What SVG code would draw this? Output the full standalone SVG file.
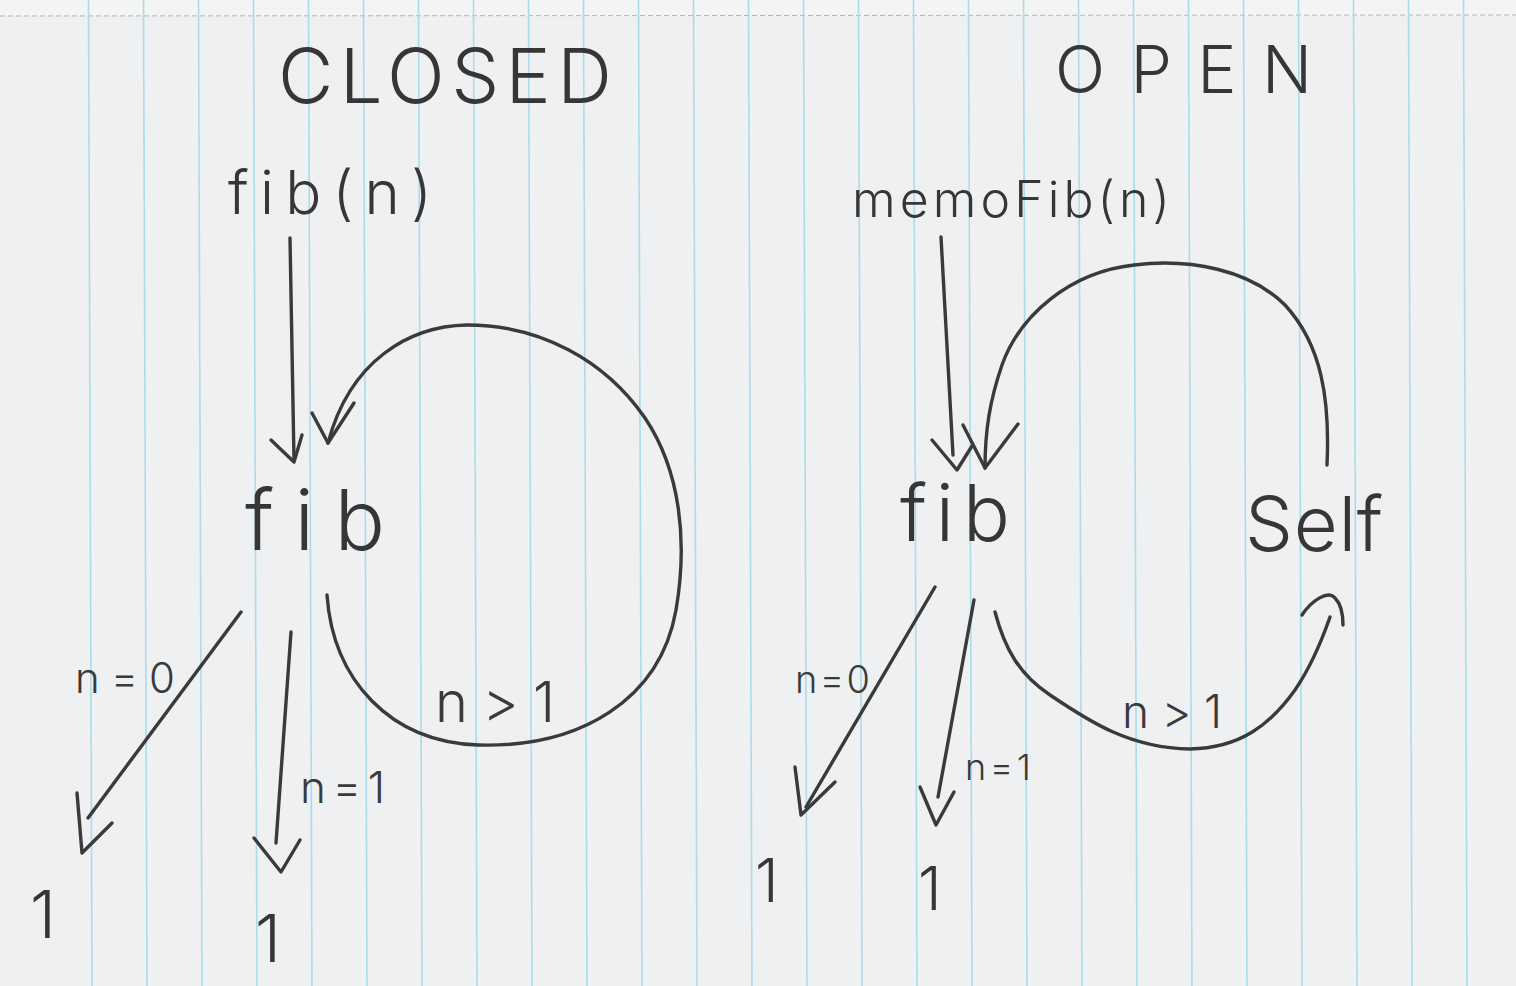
<svg xmlns="http://www.w3.org/2000/svg" width="1516" height="986" viewBox="0 0 1516 986">
<defs>
<style>
.paper{fill:#eef0f2}
.rule{stroke:#a9dbeb;stroke-width:1.6;fill:none}
.ink{stroke:#3a3a3a;stroke-width:3.4;fill:none;stroke-linecap:round;stroke-linejoin:round}
.hw{font-family:Inter,"DejaVu Sans","Liberation Sans",sans-serif;font-weight:300;fill:#363636}
.lbl{font-family:Inter,"DejaVu Sans","Liberation Sans",sans-serif;font-weight:300;fill:#3a3a3a}
</style>
</defs>
<rect class="paper" x="0" y="0" width="1516" height="986"/>
<rect x="0" y="0" width="1516" height="16" fill="#f3f4f4"/>
<line x1="0" y1="16" x2="1516" y2="15" stroke="#b4b4b4" stroke-width="1" stroke-dasharray="5 3"/>
<g id="rules">
<line class="rule" x1="88.5" y1="0" x2="92" y2="986"/>
<line class="rule" x1="143.5" y1="0" x2="147" y2="986"/>
<line class="rule" x1="198.5" y1="0" x2="202" y2="986"/>
<line class="rule" x1="253.5" y1="0" x2="257" y2="986"/>
<line class="rule" x1="308.5" y1="0" x2="312" y2="986"/>
<line class="rule" x1="363.5" y1="0" x2="367" y2="986"/>
<line class="rule" x1="418.5" y1="0" x2="422" y2="986"/>
<line class="rule" x1="473.5" y1="0" x2="477" y2="986"/>
<line class="rule" x1="528.5" y1="0" x2="532" y2="986"/>
<line class="rule" x1="583.5" y1="0" x2="587" y2="986"/>
<line class="rule" x1="638.5" y1="0" x2="642" y2="986"/>
<line class="rule" x1="693.5" y1="0" x2="697" y2="986"/>
<line class="rule" x1="748.5" y1="0" x2="752" y2="986"/>
<line class="rule" x1="803.5" y1="0" x2="807" y2="986"/>
<line class="rule" x1="858.5" y1="0" x2="862" y2="986"/>
<line class="rule" x1="913.5" y1="0" x2="917" y2="986"/>
<line class="rule" x1="968.5" y1="0" x2="972" y2="986"/>
<line class="rule" x1="1023.5" y1="0" x2="1027" y2="986"/>
<line class="rule" x1="1078.5" y1="0" x2="1082" y2="986"/>
<line class="rule" x1="1133.5" y1="0" x2="1137" y2="986"/>
<line class="rule" x1="1188.5" y1="0" x2="1192" y2="986"/>
<line class="rule" x1="1243.5" y1="0" x2="1247" y2="986"/>
<line class="rule" x1="1298.5" y1="0" x2="1302" y2="986"/>
<line class="rule" x1="1353.5" y1="0" x2="1357" y2="986"/>
<line class="rule" x1="1408.5" y1="0" x2="1412" y2="986"/>
<line class="rule" x1="1463.5" y1="0" x2="1467" y2="986"/>
</g>
<g id="title-closed"><text class="hw" x="278" y="103" font-size="76" textLength="334" lengthAdjust="spacing">CLOSED</text></g>
<g id="title-open"><text class="hw" x="1055" y="93" font-size="66" textLength="257" lengthAdjust="spacing">OPEN</text></g>
<g id="node-fibn"><text class="hw" x="228" y="214" font-size="60" textLength="204" lengthAdjust="spacing">fib(n)</text></g>
<g id="node-fib-closed"><text class="hw" x="245" y="550" font-size="84" textLength="140" lengthAdjust="spacing">fib</text></g>
<g id="node-one-a"><text class="hw" x="30" y="938" font-size="66">1</text></g>
<g id="node-one-b"><text class="hw" x="255" y="962" font-size="66">1</text></g>
<g id="node-memofib"><text class="hw" x="852" y="217" font-size="50" textLength="318" lengthAdjust="spacing">memoFib(n)</text></g>
<g id="node-fib-open"><text class="hw" x="900" y="541" font-size="78" textLength="110" lengthAdjust="spacing">fib</text></g>
<g id="node-self"><text class="hw" x="1245" y="551" font-size="76" textLength="138" lengthAdjust="spacing">Self</text></g>
<g id="node-one-c"><text class="hw" x="755" y="902" font-size="60">1</text></g>
<g id="node-one-d"><text class="hw" x="918" y="910" font-size="60">1</text></g>
<g id="connectors">
<path class="ink" d="M290,238 L294,460"/>
<path class="ink" d="M271,440 L294,462 L302,435"/>
<path class="ink" d="M327,595 C333,680 390,742 478,745 C580,748 660,700 676,610 C688,540 680,470 645,418 C605,360 540,325 467,325 C410,326 350,360 328,443"/>
<path class="ink" d="M312,413 L328,443 L354,403"/>
<path class="ink" d="M241,612 L88,818"/>
<path class="ink" d="M77,793 L82,853 L112,823"/>
<path class="ink" d="M291,632 L276,843"/>
<path class="ink" d="M254,838 L281,872 L300,840"/>
<path class="ink" d="M941,237 L953,455"/>
<path class="ink" d="M932,440 L957,470 L972,446"/>
<path class="ink" d="M1327,465 C1330,400 1322,345 1285,305 C1250,270 1190,258 1134,265 C1070,272 1020,315 1002,365 C990,400 985,430 985,468"/>
<path class="ink" d="M963,425 L985,468 L1018,424"/>
<path class="ink" d="M935,587 L806,807"/>
<path class="ink" d="M795,767 L801,815 L835,782"/>
<path class="ink" d="M974,600 L938,797"/>
<path class="ink" d="M920,787 L936,825 L954,792"/>
<path class="ink" d="M995,612 C1005,650 1020,675 1050,695 C1090,722 1130,748 1190,749 C1240,748 1270,725 1295,690 C1312,665 1322,640 1330,617"/>
<path class="ink" d="M1302,615 C1312,600 1328,590 1335,598 C1341,604 1343,615 1343,625"/>
<text class="lbl" x="75" y="693" font-size="42" textLength="100" lengthAdjust="spacing">n=0</text>
<text class="lbl" x="300" y="803" font-size="44" textLength="85" lengthAdjust="spacing">n=1</text>
<text class="lbl" x="435" y="722" font-size="56" textLength="120" lengthAdjust="spacing">n&gt;1</text>
<text class="lbl" x="795" y="693" font-size="38" textLength="75" lengthAdjust="spacing">n=0</text>
<text class="lbl" x="965" y="780" font-size="36" textLength="66" lengthAdjust="spacing">n=1</text>
<text class="lbl" x="1122" y="728" font-size="46" textLength="100" lengthAdjust="spacing">n&gt;1</text>
</g>
</svg>
